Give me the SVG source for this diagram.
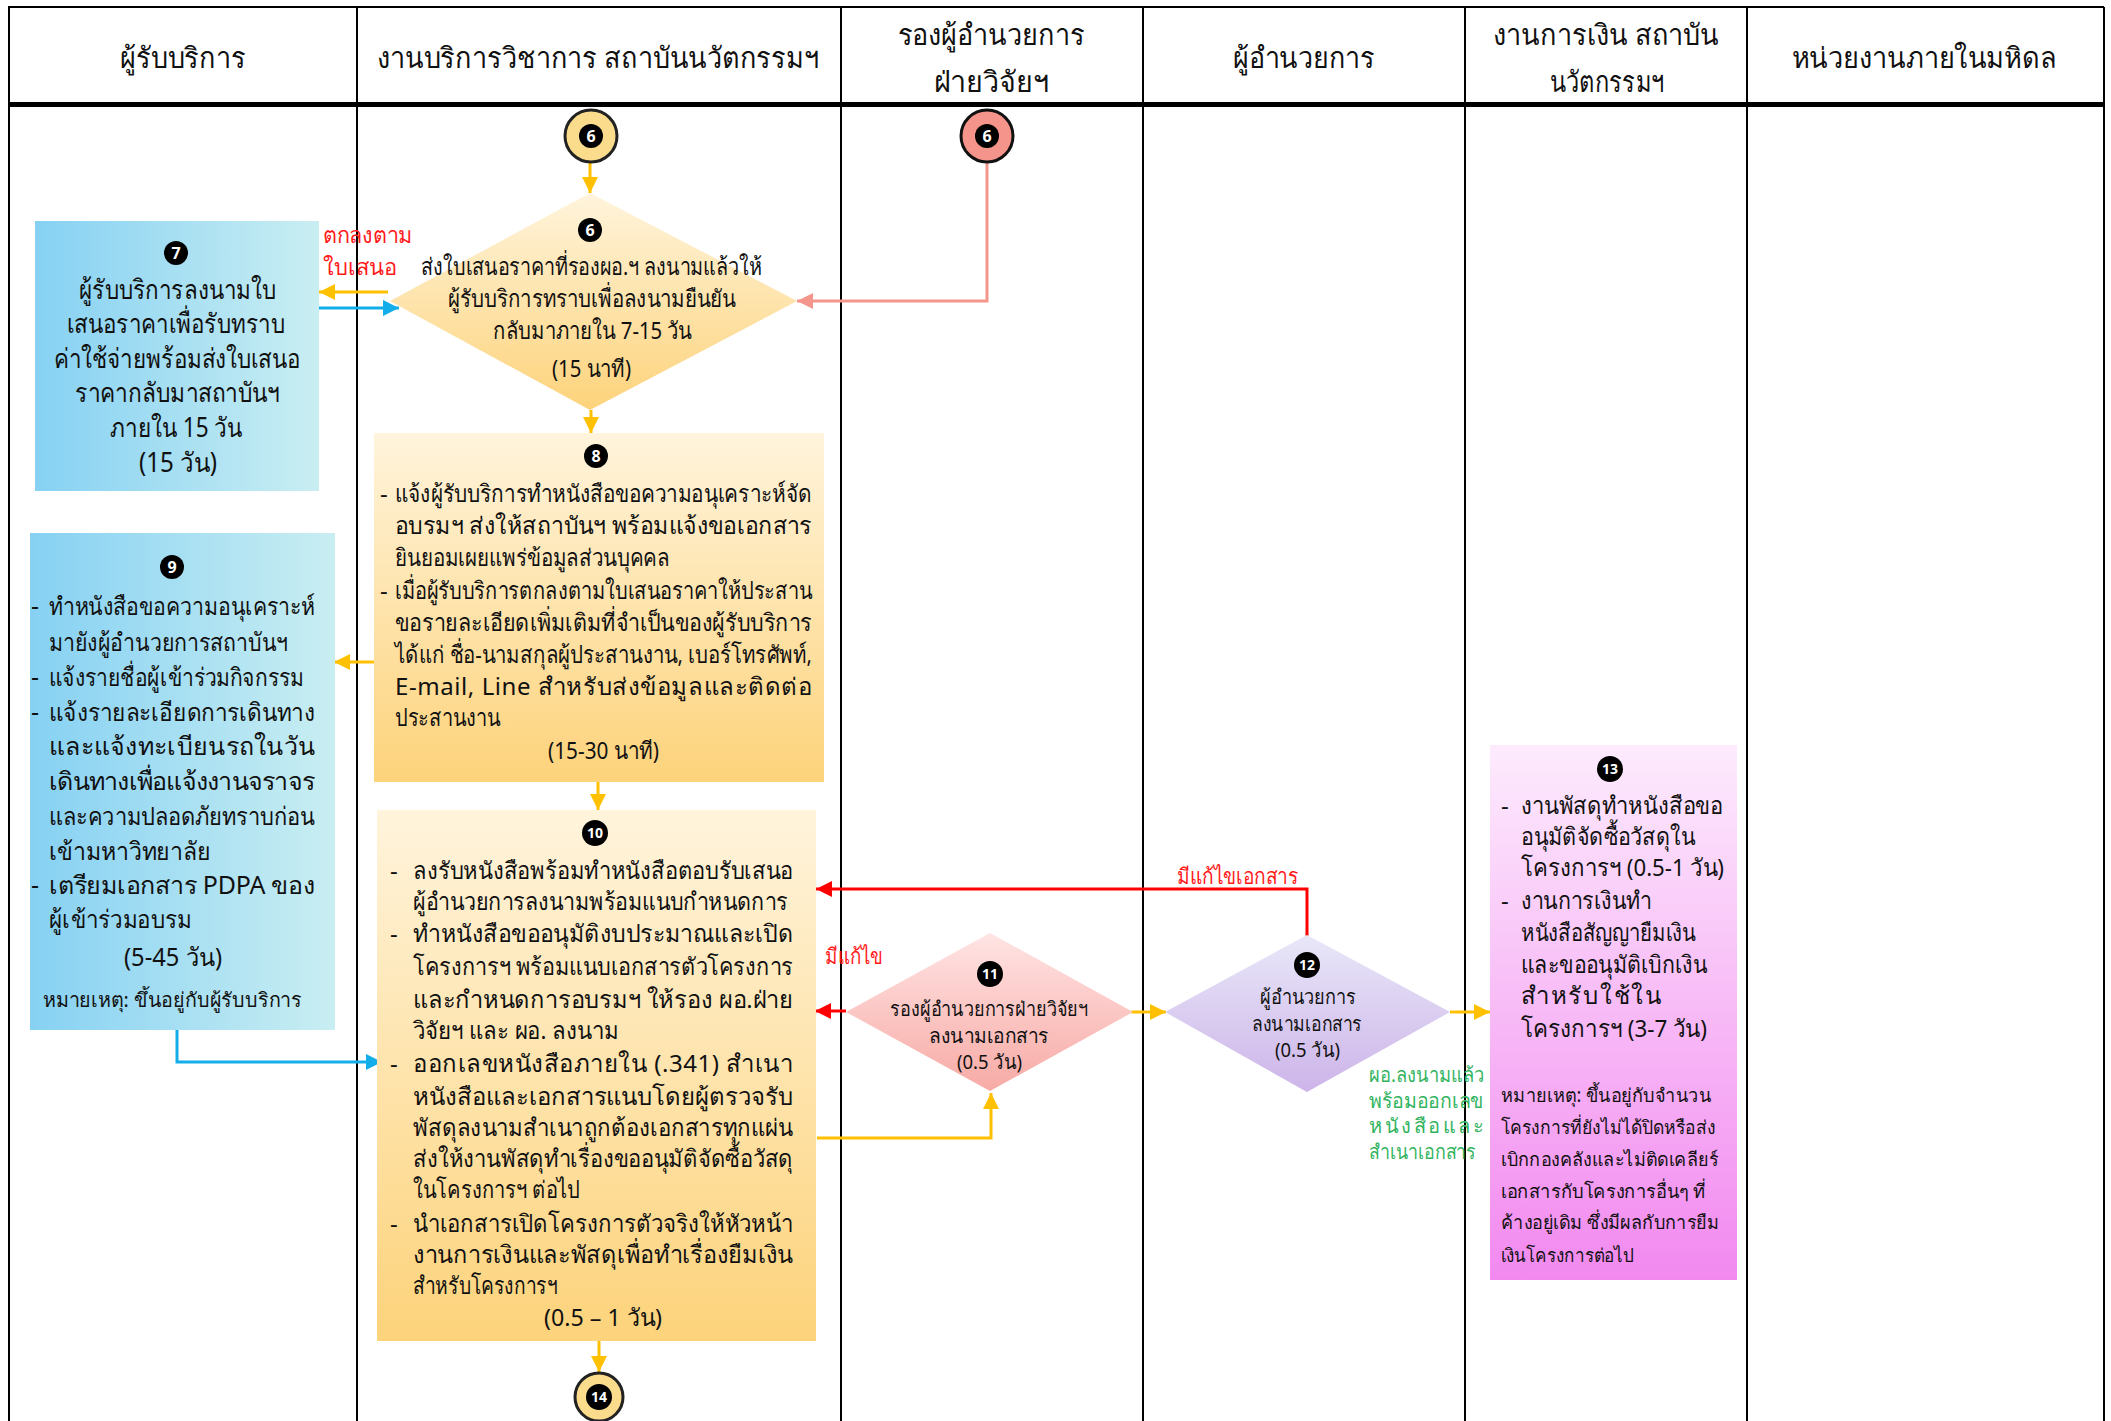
<svg xmlns="http://www.w3.org/2000/svg" width="2111" height="1421" viewBox="0 0 2111 1421">
<style>
text{font-family:"Noto Sans","DejaVu Sans",sans-serif;fill:#111}
.hd{font-size:29px;text-anchor:middle}
.c{text-anchor:middle}
.t24{font-size:24px}
.t26{font-size:27px}
.t20{font-size:20px}
.t22{font-size:22px}
.red{fill:#FF1A1A}
.grn{fill:#33B45F}
.bw{fill:#fff;font-weight:bold;text-anchor:middle}
.ln{fill:none;stroke-width:3}
.or{stroke:#FFC000}
.bl{stroke:#13AEEA}
.rd{stroke:#FF0000}
.sm{stroke:#F4968C}
.grid{stroke:#000;stroke-width:2}
</style>
<defs>
<linearGradient id="gBlue" x1="0" y1="0" x2="1" y2="0"><stop offset="0" stop-color="#86D1F3"/><stop offset="1" stop-color="#C9EEF2"/></linearGradient>
<linearGradient id="gYel" x1="0" y1="0" x2="0" y2="1"><stop offset="0" stop-color="#FFF4DC"/><stop offset="1" stop-color="#FDD37B"/></linearGradient>
<linearGradient id="gPink" x1="0" y1="0" x2="0" y2="1"><stop offset="0" stop-color="#FFE4E4"/><stop offset="1" stop-color="#F7AAA5"/></linearGradient>
<linearGradient id="gPur" x1="0" y1="0" x2="0" y2="1"><stop offset="0" stop-color="#E8E7F8"/><stop offset="1" stop-color="#CDB4E9"/></linearGradient>
<linearGradient id="gMag" x1="0" y1="0" x2="0" y2="1"><stop offset="0" stop-color="#FDEBFD"/><stop offset="1" stop-color="#F289F0"/></linearGradient>
<marker id="aO" markerUnits="userSpaceOnUse" markerWidth="18" markerHeight="16" refX="16" refY="8" orient="auto"><path d="M0,0 L16,8 L0,16 z" fill="#FFC000"/></marker>
<marker id="aB" markerUnits="userSpaceOnUse" markerWidth="18" markerHeight="16" refX="16" refY="8" orient="auto"><path d="M0,0 L16,8 L0,16 z" fill="#13AEEA"/></marker>
<marker id="aR" markerUnits="userSpaceOnUse" markerWidth="18" markerHeight="16" refX="16" refY="8" orient="auto"><path d="M0,0 L16,8 L0,16 z" fill="#FF0000"/></marker>
<marker id="aS" markerUnits="userSpaceOnUse" markerWidth="18" markerHeight="16" refX="16" refY="8" orient="auto"><path d="M0,0 L16,8 L0,16 z" fill="#F4968C"/></marker>
</defs>
<rect width="2111" height="1421" fill="#fff"/>

<g id="table">
<line class="grid" x1="8" y1="7" x2="2104" y2="7" stroke-width="3"/>
<rect x="8" y="102" width="2096" height="5" fill="#000"/>
<line class="grid" x1="9" y1="7" x2="9" y2="1421"/>
<line class="grid" x1="357" y1="7" x2="357" y2="1421"/>
<line class="grid" x1="841" y1="7" x2="841" y2="1421"/>
<line class="grid" x1="1143" y1="7" x2="1143" y2="1421"/>
<line class="grid" x1="1465" y1="7" x2="1465" y2="1421"/>
<line class="grid" x1="1747" y1="7" x2="1747" y2="1421"/>
<line class="grid" x1="2104" y1="7" x2="2104" y2="1421"/>
<text class="hd" x="183" y="68" textLength="126" lengthAdjust="spacingAndGlyphs">ผู้รับบริการ</text>
<text class="hd" x="598" y="68" textLength="442" lengthAdjust="spacingAndGlyphs">งานบริการวิชาการ สถาบันนวัตกรรมฯ</text>
<text class="hd" x="991" y="45" textLength="187" lengthAdjust="spacingAndGlyphs">รองผู้อำนวยการ</text>
<text class="hd" x="991" y="92" textLength="115" lengthAdjust="spacingAndGlyphs">ฝ่ายวิจัยฯ</text>
<text class="hd" x="1304" y="68" textLength="142" lengthAdjust="spacingAndGlyphs">ผู้อำนวยการ</text>
<text class="hd" x="1606" y="45" textLength="226" lengthAdjust="spacingAndGlyphs">งานการเงิน สถาบัน</text>
<text class="hd" x="1607" y="92" textLength="114" lengthAdjust="spacingAndGlyphs">นวัตกรรมฯ</text>
<text class="hd" x="1924" y="68" textLength="265" lengthAdjust="spacingAndGlyphs">หน่วยงานภายในมหิดล</text>
</g>

<g id="connectors">
<line class="ln or" x1="590" y1="162" x2="590" y2="193" marker-end="url(#aO)"/>
<polyline class="ln sm" points="987,162 987,301 797,301" marker-end="url(#aS)"/>
<line class="ln or" x1="388" y1="292" x2="319" y2="292" marker-end="url(#aO)"/>
<line class="ln bl" x1="318" y1="308" x2="399" y2="308" marker-end="url(#aB)"/>
<line class="ln or" x1="591" y1="410" x2="591" y2="433" marker-end="url(#aO)"/>
<line class="ln or" x1="374" y1="662" x2="334" y2="662" marker-end="url(#aO)"/>
<line class="ln or" x1="598" y1="782" x2="598" y2="810" marker-end="url(#aO)"/>
<polyline class="ln bl" points="177,1030 177,1062 382,1062" marker-end="url(#aB)"/>
<polyline class="ln rd" points="1307,936 1307,889 816,889" marker-end="url(#aR)"/>
<line class="ln rd" x1="846" y1="1011" x2="815" y2="1011" marker-end="url(#aR)"/>
<polyline class="ln or" points="817,1138 991,1138 991,1093" marker-end="url(#aO)"/>
<line class="ln or" x1="1131" y1="1012" x2="1166" y2="1012" marker-end="url(#aO)"/>
<line class="ln or" x1="1450" y1="1012" x2="1490" y2="1012" marker-end="url(#aO)"/>
<line class="ln or" x1="599" y1="1341" x2="599" y2="1372" marker-end="url(#aO)"/>
<text class="t22 red" x="323" y="243" textLength="90" lengthAdjust="spacingAndGlyphs">ตกลงตาม</text>
<text class="t22 red" x="323" y="275" textLength="74" lengthAdjust="spacingAndGlyphs">ใบเสนอ</text>
<text class="t22 red" x="1177" y="884" textLength="121" lengthAdjust="spacingAndGlyphs">มีแก้ไขเอกสาร</text>
<text class="t22 red" x="825" y="964" textLength="58" lengthAdjust="spacingAndGlyphs">มีแก้ไข</text>
<text class="t20 grn" x="1369" y="1082" textLength="115" lengthAdjust="spacingAndGlyphs">ผอ.ลงนามแล้ว</text>
<text class="t20 grn" x="1369" y="1108" textLength="115" lengthAdjust="spacingAndGlyphs">พร้อมออกเลข</text>
<text class="t20 grn" x="1369" y="1133" textLength="115" lengthAdjust="spacing">หนังสือและ</text>
<text class="t20 grn" x="1369" y="1159" textLength="107" lengthAdjust="spacingAndGlyphs">สำเนาเอกสาร</text>
</g>

<g id="start6a">
<circle cx="591" cy="136" r="26" fill="#FADC8C" stroke="#222" stroke-width="3"/>
<circle cx="591" cy="136" r="12" fill="#000"/>
<text class="bw" x="591" y="142" font-size="16">6</text>
</g>
<g id="start6b">
<circle cx="987" cy="136" r="26" fill="#F4948A" stroke="#111" stroke-width="3"/>
<circle cx="987" cy="136" r="12" fill="#000"/>
<text class="bw" x="987" y="142" font-size="16">6</text>
</g>

<g id="n6">
<polygon points="590,193 797,301 590,410 390,301" fill="url(#gYel)"/>
<circle cx="590" cy="230" r="12" fill="#000"/><text class="bw" x="590" y="236" font-size="16">6</text>
<text class="t24" x="421" y="275" textLength="341" lengthAdjust="spacingAndGlyphs">ส่งใบเสนอราคาที่รองผอ.ฯ ลงนามแล้วให้</text>
<text class="t24" x="448" y="307" textLength="288" lengthAdjust="spacingAndGlyphs">ผู้รับบริการทราบเพื่อลงนามยืนยัน</text>
<text class="t24" x="493" y="339" textLength="199" lengthAdjust="spacingAndGlyphs">กลับมาภายใน 7-15 วัน</text>
<text class="t24" x="552" y="377" textLength="79" lengthAdjust="spacingAndGlyphs">(15 นาที)</text>
</g>

<g id="n7">
<rect x="35" y="221" width="284" height="270" fill="url(#gBlue)"/>
<circle cx="176" cy="253" r="12" fill="#000"/><text class="bw" x="176" y="259" font-size="16">7</text>
<g class="t26">
<text x="79" y="299" textLength="197" lengthAdjust="spacingAndGlyphs">ผู้รับบริการลงนามใบ</text>
<text x="67" y="333" textLength="218" lengthAdjust="spacingAndGlyphs">เสนอราคาเพื่อรับทราบ</text>
<text x="54" y="368" textLength="246" lengthAdjust="spacingAndGlyphs">ค่าใช้จ่ายพร้อมส่งใบเสนอ</text>
<text x="75" y="402" textLength="205" lengthAdjust="spacingAndGlyphs">ราคากลับมาสถาบันฯ</text>
<text x="110" y="437" textLength="132" lengthAdjust="spacingAndGlyphs">ภายใน 15 วัน</text>
<text x="139" y="472" textLength="78" lengthAdjust="spacingAndGlyphs">(15 วัน)</text>
</g>
</g>

<g id="n8">
<rect x="374" y="433" width="450" height="349" fill="url(#gYel)"/>
<circle cx="596" cy="456" r="12" fill="#000"/><text class="bw" x="596" y="462" font-size="16">8</text>
<g class="t24">
<text x="380" y="502">-</text>
<text x="395" y="502" textLength="417" lengthAdjust="spacingAndGlyphs">แจ้งผู้รับบริการทำหนังสือขอความอนุเคราะห์จัด</text>
<text x="395" y="534" textLength="417" lengthAdjust="spacingAndGlyphs">อบรมฯ ส่งให้สถาบันฯ พร้อมแจ้งขอเอกสาร</text>
<text x="395" y="566" textLength="275" lengthAdjust="spacingAndGlyphs">ยินยอมเผยแพร่ข้อมูลส่วนบุคคล</text>
<text x="380" y="599">-</text>
<text x="395" y="599" textLength="417" lengthAdjust="spacingAndGlyphs">เมื่อผู้รับบริการตกลงตามใบเสนอราคาให้ประสาน</text>
<text x="395" y="631" textLength="417" lengthAdjust="spacingAndGlyphs">ขอรายละเอียดเพิ่มเติมที่จำเป็นของผู้รับบริการ</text>
<text x="395" y="663" textLength="417" lengthAdjust="spacingAndGlyphs">ได้แก่ ชื่อ-นามสกุลผู้ประสานงาน, เบอร์โทรศัพท์,</text>
<text x="395" y="695" textLength="417" lengthAdjust="spacing">E-mail,  Line สำหรับส่งข้อมูลและติดต่อ</text>
<text x="395" y="726" textLength="105" lengthAdjust="spacingAndGlyphs">ประสานงาน</text>
<text x="548" y="759" textLength="111" lengthAdjust="spacingAndGlyphs">(15-30 นาที)</text>
</g>
</g>

<g id="n9">
<rect x="30" y="533" width="305" height="497" fill="url(#gBlue)"/>
<circle cx="172" cy="567" r="12" fill="#000"/><text class="bw" x="172" y="573" font-size="16">9</text>
<g style="font-size:25px">
<text x="31" y="615">-</text>
<text x="49" y="615" textLength="266" lengthAdjust="spacingAndGlyphs">ทำหนังสือขอความอนุเคราะห์</text>
<text x="49" y="651" textLength="239" lengthAdjust="spacingAndGlyphs">มายังผู้อำนวยการสถาบันฯ</text>
<text x="31" y="686">-</text>
<text x="49" y="686" textLength="254" lengthAdjust="spacingAndGlyphs">แจ้งรายชื่อผู้เข้าร่วมกิจกรรม</text>
<text x="31" y="721">-</text>
<text x="49" y="721" textLength="266" lengthAdjust="spacingAndGlyphs">แจ้งรายละเอียดการเดินทาง</text>
<text x="49" y="755" textLength="266" lengthAdjust="spacing">และแจ้งทะเบียนรถในวัน</text>
<text x="49" y="790" textLength="266" lengthAdjust="spacing">เดินทางเพื่อแจ้งงานจราจร</text>
<text x="49" y="825" textLength="266" lengthAdjust="spacingAndGlyphs">และความปลอดภัยทราบก่อน</text>
<text x="49" y="860" textLength="162" lengthAdjust="spacingAndGlyphs">เข้ามหาวิทยาลัย</text>
<text x="31" y="894">-</text>
<text x="49" y="894" textLength="266" lengthAdjust="spacing">เตรียมเอกสาร  PDPA ของ</text>
<text x="49" y="928" textLength="142" lengthAdjust="spacingAndGlyphs">ผู้เข้าร่วมอบรม</text>
<text x="124" y="966" textLength="98" lengthAdjust="spacingAndGlyphs">(5-45 วัน)</text>
</g>
<text class="t20" x="43" y="1007" textLength="259" lengthAdjust="spacingAndGlyphs">หมายเหตุ: ขึ้นอยู่กับผู้รับบริการ</text>
</g>

<g id="n10">
<rect x="377" y="810" width="439" height="531" fill="url(#gYel)"/>
<circle cx="595" cy="833" r="13" fill="#000"/><text class="bw" x="595" y="838" font-size="14">10</text>
<g class="t24">
<text x="390" y="879">-</text>
<text x="413" y="879" textLength="380" lengthAdjust="spacingAndGlyphs">ลงรับหนังสือพร้อมทำหนังสือตอบรับเสนอ</text>
<text x="413" y="910" textLength="375" lengthAdjust="spacingAndGlyphs">ผู้อำนวยการลงนามพร้อมแนบกำหนดการ</text>
<text x="390" y="942">-</text>
<text x="413" y="942" textLength="380" lengthAdjust="spacingAndGlyphs">ทำหนังสือขออนุมัติงบประมาณและเปิด</text>
<text x="413" y="975" textLength="380" lengthAdjust="spacingAndGlyphs">โครงการฯ พร้อมแนบเอกสารตัวโครงการ</text>
<text x="413" y="1008" textLength="380" lengthAdjust="spacingAndGlyphs">และกำหนดการอบรมฯ ให้รอง ผอ.ฝ่าย</text>
<text x="413" y="1039" textLength="206" lengthAdjust="spacingAndGlyphs">วิจัยฯ และ ผอ. ลงนาม</text>
<text x="390" y="1072">-</text>
<text x="413" y="1072" textLength="380" lengthAdjust="spacing">ออกเลขหนังสือภายใน (.341) สำเนา</text>
<text x="413" y="1105" textLength="380" lengthAdjust="spacingAndGlyphs">หนังสือและเอกสารแนบโดยผู้ตรวจรับ</text>
<text x="413" y="1136" textLength="380" lengthAdjust="spacingAndGlyphs">พัสดุลงนามสำเนาถูกต้องเอกสารทุกแผ่น</text>
<text x="413" y="1167" textLength="380" lengthAdjust="spacingAndGlyphs">ส่งให้งานพัสดุทำเรื่องขออนุมัติจัดซื้อวัสดุ</text>
<text x="413" y="1198" textLength="167" lengthAdjust="spacingAndGlyphs">ในโครงการฯ ต่อไป</text>
<text x="390" y="1232">-</text>
<text x="413" y="1232" textLength="380" lengthAdjust="spacingAndGlyphs">นำเอกสารเปิดโครงการตัวจริงให้หัวหน้า</text>
<text x="413" y="1263" textLength="380" lengthAdjust="spacingAndGlyphs">งานการเงินและพัสดุเพื่อทำเรื่องยืมเงิน</text>
<text x="413" y="1294" textLength="144" lengthAdjust="spacingAndGlyphs">สำหรับโครงการฯ</text>
<text x="544" y="1326" textLength="118" lengthAdjust="spacingAndGlyphs">(0.5 – 1 วัน)</text>
</g>
</g>

<g id="n11">
<polygon points="990,933 1133,1012 990,1091 846,1012" fill="url(#gPink)"/>
<circle cx="990" cy="974" r="13" fill="#000"/><text class="bw" x="990" y="979" font-size="14">11</text>
<text class="t20" x="890" y="1016" textLength="198" lengthAdjust="spacingAndGlyphs">รองผู้อำนวยการฝ่ายวิจัยฯ</text>
<text class="t20" x="929" y="1043" textLength="120" lengthAdjust="spacingAndGlyphs">ลงนามเอกสาร</text>
<text class="t20" x="957" y="1069" textLength="65" lengthAdjust="spacingAndGlyphs">(0.5 วัน)</text>
</g>

<g id="n12">
<polygon points="1307,935 1450,1012 1307,1092 1165,1012" fill="url(#gPur)"/>
<circle cx="1307" cy="965" r="13" fill="#000"/><text class="bw" x="1307" y="970" font-size="14">12</text>
<text class="t20" x="1260" y="1004" textLength="96" lengthAdjust="spacingAndGlyphs">ผู้อำนวยการ</text>
<text class="t20" x="1252" y="1031" textLength="110" lengthAdjust="spacingAndGlyphs">ลงนามเอกสาร</text>
<text class="t20" x="1275" y="1057" textLength="65" lengthAdjust="spacingAndGlyphs">(0.5 วัน)</text>
</g>

<g id="n13">
<rect x="1490" y="745" width="247" height="535" fill="url(#gMag)"/>
<circle cx="1610" cy="769" r="13" fill="#000"/><text class="bw" x="1610" y="774" font-size="14">13</text>
<g class="t24">
<text x="1501" y="814">-</text>
<text x="1521" y="814" textLength="202" lengthAdjust="spacingAndGlyphs">งานพัสดุทำหนังสือขอ</text>
<text x="1521" y="845" textLength="174" lengthAdjust="spacingAndGlyphs">อนุมัติจัดซื้อวัสดุใน</text>
<text x="1521" y="876" textLength="203" lengthAdjust="spacingAndGlyphs">โครงการฯ (0.5-1 วัน)</text>
<text x="1501" y="909">-</text>
<text x="1521" y="909" textLength="131" lengthAdjust="spacingAndGlyphs">งานการเงินทำ</text>
<text x="1521" y="941" textLength="175" lengthAdjust="spacingAndGlyphs">หนังสือสัญญายืมเงิน</text>
<text x="1521" y="973" textLength="186" lengthAdjust="spacingAndGlyphs">และขออนุมัติเบิกเงิน</text>
<text x="1521" y="1004" textLength="140" lengthAdjust="spacing">สำหรับใช้ใน</text>
<text x="1521" y="1037" textLength="186" lengthAdjust="spacingAndGlyphs">โครงการฯ (3-7 วัน)</text>
</g>
<g style="font-size:19px">
<text x="1501" y="1102" textLength="210" lengthAdjust="spacingAndGlyphs">หมายเหตุ: ขึ้นอยู่กับจำนวน</text>
<text x="1501" y="1134" textLength="214" lengthAdjust="spacingAndGlyphs">โครงการที่ยังไม่ได้ปิดหรือส่ง</text>
<text x="1501" y="1166" textLength="217" lengthAdjust="spacingAndGlyphs">เบิกกองคลังและไม่ติดเคลียร์</text>
<text x="1501" y="1198" textLength="205" lengthAdjust="spacingAndGlyphs">เอกสารกับโครงการอื่นๆ ที่</text>
<text x="1501" y="1229" textLength="218" lengthAdjust="spacingAndGlyphs">ค้างอยู่เดิม ซึ่งมีผลกับการยืม</text>
<text x="1501" y="1262" textLength="133" lengthAdjust="spacingAndGlyphs">เงินโครงการต่อไป</text>
</g>
</g>

<g id="end14">
<circle cx="599" cy="1397" r="24" fill="#FADC8C" stroke="#222" stroke-width="3"/>
<circle cx="599" cy="1397" r="13" fill="#000"/>
<text class="bw" x="599" y="1402" font-size="14">14</text>
</g>
</svg>
